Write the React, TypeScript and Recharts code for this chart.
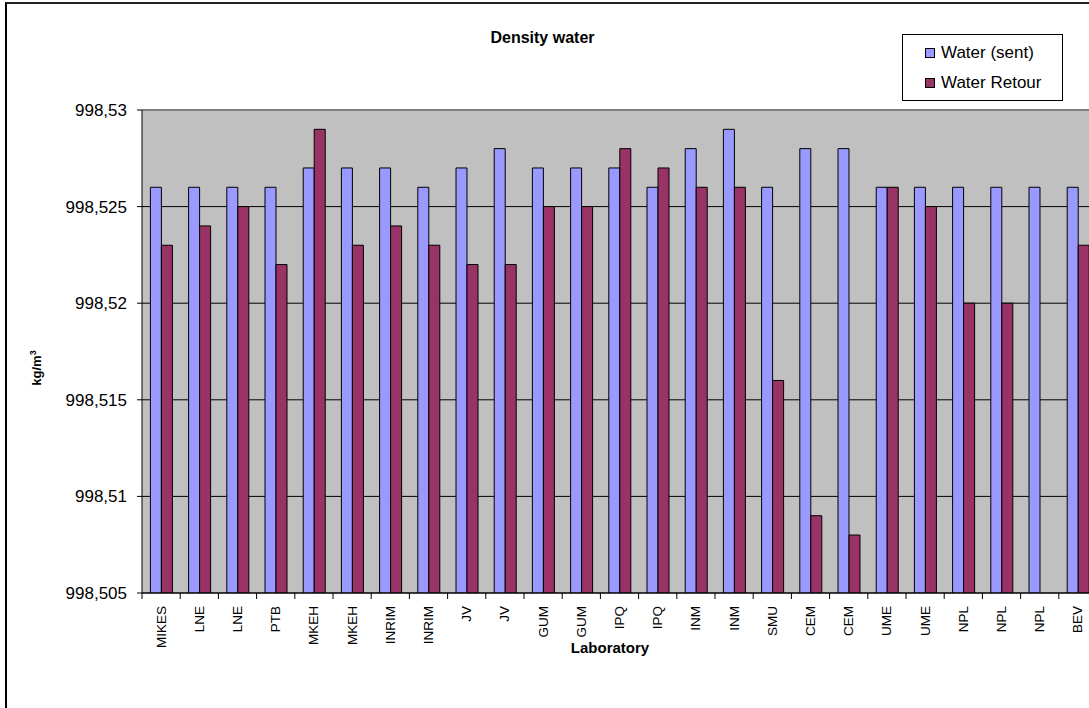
import React from 'react';
import { BarChart, Bar, XAxis, YAxis, CartesianGrid, Legend, ReferenceLine } from 'recharts';

const labs = [
  'MIKES', 'LNE', 'LNE', 'PTB', 'MKEH', 'MKEH', 'INRIM', 'INRIM', 'JV', 'JV',
  'GUM', 'GUM', 'IPQ', 'IPQ', 'INM', 'INM', 'SMU', 'CEM', 'CEM', 'UME',
  'UME', 'NPL', 'NPL', 'NPL', 'BEV',
];

const waterSent = [
  998.526, 998.526, 998.526, 998.526, 998.527, 998.527, 998.527, 998.526, 998.527, 998.528,
  998.527, 998.527, 998.527, 998.526, 998.528, 998.529, 998.526, 998.528, 998.528, 998.526,
  998.526, 998.526, 998.526, 998.526, 998.526,
];

const waterRetour = [
  998.523, 998.524, 998.525, 998.522, 998.529, 998.523, 998.524, 998.523, 998.522, 998.522,
  998.525, 998.525, 998.528, 998.527, 998.526, 998.526, 998.516, 998.509, 998.508, 998.526,
  998.525, 998.52, 998.52, null, 998.523,
];

const yTicks = [998.505, 998.51, 998.515, 998.52, 998.525, 998.53];

const seriesNames = { sent: 'Water (sent)', retour: 'Water Retour' };

const chartData = labs.map((lab, i) => ({
  lab,
  sent: waterSent[i],
  retour: waterRetour[i],
}));

const FONT = "'Liberation Sans', Arial, sans-serif";
const BAND = 38.2; // width of one category on the x axis

const formatTick = (v: number) =>
  v.toFixed(3).replace(/0+$/, '').replace('.', ',');

const LabTick = (props: any) => {
  const { x, y, payload } = props;
  return (
    <g>
      <line x1={x - BAND / 2} x2={x - BAND / 2} y1={y - 13} y2={y - 7} stroke="#000" />
      <text
        x={x}
        y={y}
        transform={`rotate(-90, ${x}, ${y})`}
        textAnchor="end"
        dominantBaseline="central"
        fontSize={13.5}
        fontFamily={FONT}
        fill="#000"
      >
        {payload.value}
      </text>
    </g>
  );
};

const renderLegend = (props: any) => {
  const { payload } = props;
  return (
    <div
      style={{
        border: '1px solid #000',
        background: '#fff',
        width: 159,
        height: 62,
        boxSizing: 'content-box',
        fontFamily: FONT,
        fontSize: 17,
        paddingTop: 3,
      }}
    >
      {payload.map((item: any) => (
        <div key={item.dataKey} style={{ display: 'flex', alignItems: 'center', height: 30, paddingLeft: 22 }}>
          <span
            style={{
              display: 'inline-block',
              width: 8,
              height: 8,
              background: item.color,
              border: '1px solid #000',
              marginRight: 6,
            }}
          />
          <span>{item.value}</span>
        </div>
      ))}
    </div>
  );
};

export default function App() {
  return (
    <div
      style={{
        position: 'absolute',
        left: 0,
        top: 0,
        width: 1089,
        height: 708,
        overflow: 'hidden',
        background: '#fff',
        fontFamily: FONT,
      }}
    >
      <div
        style={{
          position: 'absolute',
          left: 5,
          top: 2,
          width: 1200,
          height: 800,
          borderLeft: '2px solid #000',
          borderTop: '2px solid #222',
        }}
      />
      <div style={{ position: 'absolute', left: 0, top: 0 }}>
        <BarChart
          width={1105}
          height={708}
          data={chartData}
          margin={{ top: 110, right: 8, bottom: 55, left: 62 }}
          barCategoryGap="22%"
          barGap={0}
        >
          <CartesianGrid horizontal vertical={false} stroke="#000" fill="#C0C0C0" fillOpacity={1} />
          <ReferenceLine y={998.53} stroke="#808080" strokeWidth={2} />
          <XAxis
            dataKey="lab"
            interval={0}
            height={60}
            tickSize={0}
            tickMargin={13}
            tick={<LabTick />}
            axisLine={{ stroke: '#000' }}
          />
          <YAxis
            type="number"
            width={80}
            domain={[998.505, 998.53]}
            ticks={yTicks}
            allowDataOverflow
            tickFormatter={formatTick}
            tickSize={5}
            tickMargin={10}
            tick={{ fill: '#000', fontSize: 17, fontFamily: FONT }}
            tickLine={{ stroke: '#000' }}
            axisLine={{ stroke: '#000' }}
          />
          <Legend
            layout="vertical"
            align="center"
            verticalAlign="middle"
            content={renderLegend}
            wrapperStyle={{ left: 902, top: 34, width: 161, height: 66 }}
          />
          <Bar
            dataKey="sent"
            name={seriesNames.sent}
            fill="#9999FF"
            stroke="#000"
            strokeWidth={1}
            isAnimationActive={false}
          />
          <Bar
            dataKey="retour"
            name={seriesNames.retour}
            fill="#993366"
            stroke="#000"
            strokeWidth={1}
            isAnimationActive={false}
          />
        </BarChart>
      </div>
      <div
        style={{
          position: 'absolute',
          left: 0,
          top: 28,
          width: 1085,
          textAlign: 'center',
          fontWeight: 'bold',
          fontSize: 16,
          lineHeight: '20px',
        }}
      >
        Density water
      </div>
      <div
        style={{
          position: 'absolute',
          left: 36,
          top: 368,
          transform: 'translate(-50%, -50%) rotate(-90deg)',
          fontWeight: 'bold',
          fontSize: 13,
          whiteSpace: 'nowrap',
        }}
      >
        kg/m<sup style={{ fontSize: 9 }}>3</sup>
      </div>
      <div
        style={{
          position: 'absolute',
          left: 610,
          top: 639,
          transform: 'translateX(-50%)',
          fontWeight: 'bold',
          fontSize: 15,
          lineHeight: '18px',
          whiteSpace: 'nowrap',
        }}
      >
        Laboratory
      </div>
    </div>
  );
}
